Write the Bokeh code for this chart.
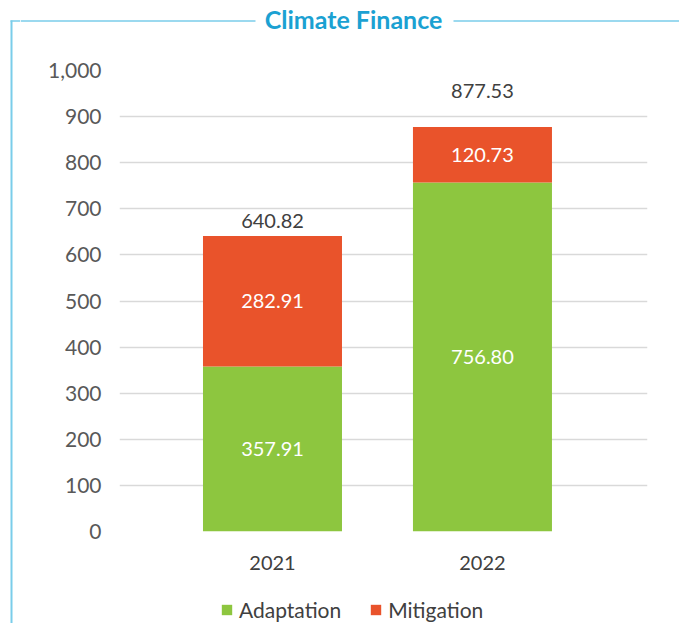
from bokeh.plotting import figure
from bokeh.layouts import column, row
from bokeh.models import (ColumnDataSource, Range1d, FixedTicker, NumeralTickFormatter, Legend)
from bokeh.core.properties import value
from bokeh.embed import file_html
from bokeh.resources import INLINE

# ---------------- data ----------------
years = ["2021", "2022"]
series = ["Adaptation", "Mitigation"]
adaptation = [357.91, 756.80]
mitigation = [282.91, 120.73]
totals = [640.82, 877.53]
y_ticks = [0, 100, 200, 300, 400, 500, 600, 700, 800, 900, 1000]
title_text = "Climate Finance"

# ---------------- style ----------------
colors = ["#8DC63F", "#E9532B"]
FONT = "Lato"
frame_col = "#7ACDEA"
title_col = "#1BA1D2"
PAGE_W, PAGE_H = 679, 623
STRIP_W = 20        # strip with the left border line (full height)
CW = PAGE_W - STRIP_W
TOP_H = 40          # title strip
BOT_H = 33          # legend strip
MH = PAGE_H - TOP_H - BOT_H
FRAME_TOP, FRAME_BOTTOM = 70, 531   # page pixels of the plot frame
total_label_offsets = [-15, -36]    # px above bar top

x_pos = [i + 1 for i in range(len(years))]


def pixel_fig(w, h):
    f = figure(width=w, height=h, output_backend="svg", toolbar_location=None,
               x_range=Range1d(0, w), y_range=Range1d(h, 0),
               x_axis_location=None, y_axis_location=None,
               min_border_left=0, min_border_right=0, min_border_top=0, min_border_bottom=0)
    f.outline_line_color = None
    f.xgrid.visible = False
    f.ygrid.visible = False
    f.background_fill_color = "white"
    f.border_fill_color = "white"
    return f


# ---------- left strip: frame corner + left border ----------
strip = pixel_fig(STRIP_W, PAGE_H)
strip.segment(x0=[11], y0=[20], x1=[11], y1=[PAGE_H], line_color=frame_col, line_width=2)
strip.segment(x0=[10], y0=[20.5], x1=[STRIP_W], y1=[20.5], line_color=frame_col, line_width=1.5)

# ---------- top strip: title inside the frame's top line ----------
top = pixel_fig(CW, TOP_H)
top.segment(x0=[0, 433], y0=[20.5, 20.5], x1=[235, CW], y1=[20.5, 20.5],
            line_color=frame_col, line_width=1.5)
top.text(x=[333], y=[18], text=[title_text], text_font=value(FONT), text_font_style="bold",
         text_font_size=value("25px"), text_color=title_col, text_align="center",
         text_baseline="middle")

# ---------- main chart ----------
src = ColumnDataSource(dict(
    x=x_pos, year=years, Adaptation=adaptation, Mitigation=mitigation, total=totals,
    a_mid=[a / 2 for a in adaptation],
    m_mid=[a + m / 2 for a, m in zip(adaptation, mitigation)],
    a_lab=[f"{v:.2f}" for v in adaptation],
    m_lab=[f"{v:.2f}" for v in mitigation],
    t_lab=[f"{v:.2f}" for v in totals],
    t_off=total_label_offsets,
))

p = figure(width=CW, height=MH, output_backend="svg", toolbar_location=None,
           x_range=Range1d(0.2714, 2.786), y_range=Range1d(0, 1000),
           min_border_left=99, min_border_right=32, min_border_top=FRAME_TOP - TOP_H,
           min_border_bottom=MH - (FRAME_BOTTOM - TOP_H))
p.outline_line_color = None
p.background_fill_color = "white"
p.border_fill_color = "white"

renderers = p.vbar_stack(series, x="x", width=0.662, source=src, color=colors, line_color=None)

p.text(x="x", y="a_mid", text="a_lab", source=src, text_font=value(FONT),
       text_font_size=value("20px"), text_color="white", text_align="center", text_baseline="middle")
p.text(x="x", y="m_mid", text="m_lab", source=src, text_font=value(FONT),
       text_font_size=value("20px"), text_color="white", text_align="center", text_baseline="middle")
p.text(x="x", y="total", text="t_lab", source=src, y_offset="t_off", text_font=value(FONT),
       text_font_size=value("20px"), text_color="#404040", text_align="center", text_baseline="middle")

p.xgrid.visible = False
p.ygrid.ticker = FixedTicker(ticks=y_ticks)
p.ygrid.grid_line_color = "#D9D9D9"
p.ygrid.grid_line_width = 1.5

p.yaxis.ticker = FixedTicker(ticks=y_ticks)
p.yaxis.formatter = NumeralTickFormatter(format="0,0")
p.yaxis.axis_line_color = None
p.yaxis.major_tick_line_color = None
p.yaxis.minor_tick_line_color = None
p.yaxis.major_label_standoff = 12
p.yaxis.major_label_text_font = FONT
p.yaxis.major_label_text_font_size = "21px"
p.yaxis.major_label_text_color = "#595959"

p.xaxis.ticker = FixedTicker(ticks=x_pos)
p.xaxis.major_label_overrides = {x: y for x, y in zip(x_pos, years)}
p.xaxis.axis_line_color = None
p.xaxis.major_tick_line_color = None
p.xaxis.minor_tick_line_color = None
p.xaxis.major_label_standoff = 18
p.xaxis.major_label_text_font = FONT
p.xaxis.major_label_text_font_size = "20px"
p.xaxis.major_label_text_color = "#404040"

# ---------- bottom strip: legend ----------
bottom = pixel_fig(CW, BOT_H)
# zero-height swatch renderers, used only for the legend entries
swatches = [bottom.vbar(x=[0], top=[0], bottom=[0], width=0, color=c, line_color=None)
            for c in colors]
legend = Legend(items=[(s, [r]) for s, r in zip(series, swatches)],
                location=(200, 1), orientation="horizontal",
                label_text_font=FONT, label_text_font_size="21px", label_text_color="#404040",
                glyph_width=13, glyph_height=13, label_standoff=6, spacing=28,
                padding=0, margin=0, border_line_color=None, background_fill_alpha=0)
bottom.add_layout(legend)

# p is wrapped in its own row so that the strips above/below keep their own frames
layout = row(strip, column(top, row(p, spacing=0), bottom, spacing=0), spacing=0)

open("out.html", "w").write(file_html(layout, INLINE))
